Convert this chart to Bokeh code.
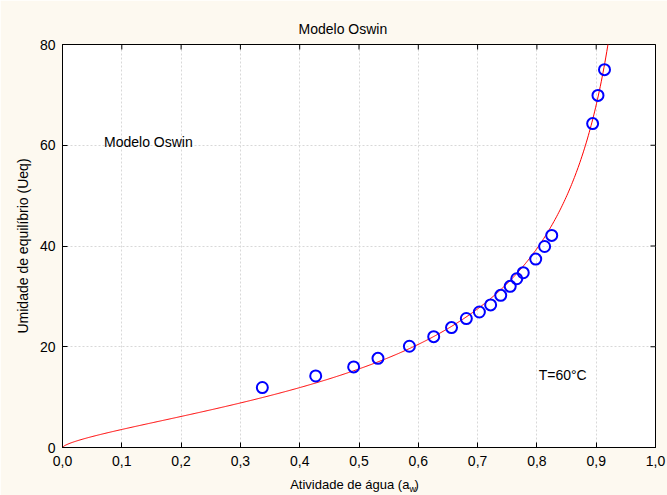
import numpy as np
from bokeh.plotting import figure
from bokeh.models import Label, FixedTicker, Range1d, CustomJSTickFormatter
from bokeh.embed import file_html
from bokeh.resources import INLINE

# data
aw_obs = [0.337, 0.427, 0.491, 0.532, 0.585, 0.626, 0.656, 0.681, 0.703, 0.722,
          0.739, 0.755, 0.766, 0.777, 0.798, 0.813, 0.825, 0.894, 0.903, 0.914]
ueq_obs = [11.9, 14.2, 16.0, 17.7, 20.1, 22.0, 23.8, 25.6, 26.9, 28.3,
           30.2, 32.0, 33.5, 34.7, 37.4, 39.9, 42.1, 64.3, 69.9, 75.0]

# Oswin model parameters (Ueq = a * (aw/(1-aw))^b), estimated from the curve
oswin_a = 15.6
oswin_b = 0.67

x_ticks = [0.0, 0.1, 0.2, 0.3, 0.4, 0.5, 0.6, 0.7, 0.8, 0.9, 1.0]
y_ticks = [0, 20, 40, 60, 80]

aw_curve = np.linspace(0.0, 0.935, 600)
ueq_curve = oswin_a * (aw_curve / (1 - aw_curve)) ** oswin_b

FONT = "Liberation Sans"
BG = "#fdf9f0"

p = figure(width=667, height=495, output_backend="svg", toolbar_location=None,
           x_range=Range1d(0, 1), y_range=Range1d(0, 80),
           min_border_left=62, min_border_right=12, min_border_top=44,
           min_border_bottom=48, background_fill_color="white",
           border_fill_color=BG, outline_line_color="black", outline_line_width=1)

p.title.text = "Modelo Oswin"
p.title.align = "left"
p.title.offset = 236
p.title.text_font = FONT
p.title.text_font_size = "14px"
p.title.text_font_style = "normal"
p.title.text_color = "black"
p.title.standoff = 16

comma_fmt = CustomJSTickFormatter(code="return tick.toFixed(1).replace('.', ',');")

p.xaxis.ticker = FixedTicker(ticks=x_ticks)
p.yaxis.ticker = FixedTicker(ticks=y_ticks)
p.xaxis.formatter = comma_fmt
for ax in (p.xaxis, p.yaxis):
    ax.major_tick_in = 5
    ax.major_tick_out = 0
    ax.minor_tick_line_color = None
    ax.axis_line_color = "black"
    ax.major_label_text_font = FONT
    ax.major_label_text_font_size = "14px"
    ax.major_label_text_color = "black"
p.xaxis.major_label_standoff = 8
p.yaxis.major_label_standoff = 7

p.yaxis.axis_label = "Umidade de equilíbrio (Ueq)"
p.yaxis.axis_label_text_font = FONT
p.yaxis.axis_label_text_font_size = "14px"
p.yaxis.axis_label_text_font_style = "normal"
p.yaxis.axis_label_text_color = "black"
p.yaxis.axis_label_standoff = 6

p.xgrid.ticker = FixedTicker(ticks=x_ticks)
p.ygrid.ticker = FixedTicker(ticks=y_ticks)
for g in (p.xgrid, p.ygrid):
    g.grid_line_color = "#d8d8d8"
    g.grid_line_dash = "2 2"
    g.grid_line_width = 1

# mirrored inner ticks on the top and right frame edges
p.scatter(x_ticks, [y_ticks[-1]] * len(x_ticks), marker="dash", angle=np.pi / 2,
          size=10, line_color="black", line_width=1)
p.scatter([x_ticks[-1]] * len(y_ticks), y_ticks, marker="dash",
          size=10, line_color="black", line_width=1)

p.line(aw_curve, ueq_curve, line_color="red", line_width=1)
p.scatter(aw_obs, ueq_obs, marker="circle", size=11, fill_color=None,
          line_color="#0000ff", line_width=2)

def lab(x, y, text, size="14px"):
    p.add_layout(Label(x=x, y=y, text=text, text_font=FONT, text_font_size=size,
                       text_align="left", text_baseline="middle", text_color="black"))

# inner texts
lab(0.070, 60.7, "Modelo Oswin")
lab(0.803, 14.3, "T=60°C")

# x axis label with subscript
p.add_layout(Label(x=0.585, y=-1, x_units="data", y_units="screen",
                   text="Atividade de água (a", text_font=FONT, text_font_size="13px",
                   text_align="right", text_baseline="middle", text_color="black"), "below")
p.add_layout(Label(x=-246, y=-41, x_units="screen", y_units="screen",
                   text="w", text_font=FONT, text_font_size="9px",
                   text_align="left", text_baseline="middle", text_color="black"), "right")
p.add_layout(Label(x=-247, y=-37, x_units="screen", y_units="screen",
                   text=")", text_font=FONT, text_font_size="13px",
                   text_align="left", text_baseline="middle", text_color="black"), "right")

open("out.html", "w").write(file_html(p, INLINE))
